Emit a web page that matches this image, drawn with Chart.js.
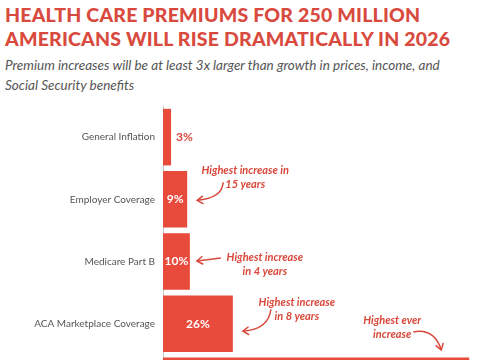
<!DOCTYPE html>
<html>
<head>
<meta charset="utf-8">
<script src="https://cdn.jsdelivr.net/npm/chart.js@4"></script>
<style>
  html, body { margin: 0; padding: 0; background: #fff; width: 485px; height: 360px; overflow: hidden; }
  .title {
    position: absolute; left: 5px; top: 3px;
    font-family: "Lato", sans-serif; font-weight: 900; font-size: 19.5px;
    line-height: 24px; color: #d94a3e; letter-spacing: 0.2px;
  }
  .sub {
    position: absolute; left: 5px; top: 55px;
    font-family: "Lato", sans-serif; font-style: italic; font-size: 13.5px;
    line-height: 20px; color: #555;
  }
  #wrap { position: absolute; left: 0; top: 0; width: 485px; height: 430px; }
</style>
</head>
<body>
<div class="title">HEALTH CARE PREMIUMS FOR 250 MILLION<br>AMERICANS WILL RISE DRAMATICALLY IN 2026</div>
<div class="sub">Premium increases will be at least 3x larger than growth in prices, income, and<br>Social Security benefits</div>
<div id="wrap"><canvas id="chart"></canvas></div>
<script>
// 데이터
const categories = [
  "General Inflation",
  "Employer Coverage",
  "Medicare Part B",
  "ACA Marketplace Coverage",
  "ACA Enrollee Premium Payments"
];
const increases = [3, 9, 10, 26, 114];
const valueLabels = ["3%", "9%", "10%", "26%", "114%"];

// 주석 (막대 끝 기준 위치)
const notes = [
  { bar: 1, lines: ["Highest increase in", "15 years"] },
  { bar: 2, lines: ["Highest increase", "in 4 years"] },
  { bar: 3, lines: ["Highest increase", "in 8 years"] },
  { bar: 4, lines: ["Highest ever", "increase"] }
];

const RED = "#e84a3c";
const NOTE_RED = "#d9483b";

const notePos = [
  { tx: 58, ty: -29, arrow: [36, -17, 35, -1, 10, 1] },
  { tx: 75, ty: -4.5, arrow: [31, -3.5, 19, -2, 7, -0.5] },
  { tx: 64, ty: -21.5, arrow: [38, -14.5, 36, 5.5, 10, 7.5] },
  { tx: -77, ty: -65, arrow: [-56, -54, -35, -58, -28, -36] }
];

function drawHead(ctx, x, y, angle) {
  ctx.save();
  ctx.translate(x, y);
  ctx.rotate(angle);
  ctx.beginPath();
  ctx.moveTo(6, -4);
  ctx.lineTo(0, 0);
  ctx.lineTo(6, 4);
  ctx.stroke();
  ctx.restore();
}

const labelPlugin = {
  id: "labels",
  afterDatasetsDraw(chart) {
    const ctx = chart.ctx;
    const xs = chart.scales.x;
    const ys = chart.scales.y;
    ctx.save();

    // 값 라벨
    ctx.font = "bold 12px Lato";
    ctx.textBaseline = "middle";
    increases.forEach((v, i) => {
      const end = xs.getPixelForValue(v);
      const y = ys.getPixelForValue(i);
      const start = xs.getPixelForValue(0);
      if (end - start < 20) {
        ctx.fillStyle = NOTE_RED;
        ctx.textAlign = "left";
        ctx.fillText(valueLabels[i], end + 5, y);
      } else {
        ctx.fillStyle = "#ffffff";
        ctx.textAlign = "center";
        ctx.fillText(valueLabels[i], (start + end) / 2, y);
      }
    });

    // 주석 텍스트 + 화살표
    ctx.font = "italic bold 11px Lato";
    ctx.fillStyle = NOTE_RED;
    ctx.strokeStyle = NOTE_RED;
    ctx.lineWidth = 1.5;
    ctx.textAlign = "center";
    notes.forEach((n, k) => {
      const p = notePos[k];
      const bx = xs.getPixelForValue(increases[n.bar]);
      const by = ys.getPixelForValue(n.bar);
      n.lines.forEach((line, j) => {
        ctx.fillText(line, bx + p.tx, by + p.ty + j * 14);
      });
      const a = p.arrow;
      ctx.beginPath();
      ctx.moveTo(bx + a[0], by + a[1]);
      ctx.quadraticCurveTo(bx + a[2], by + a[3], bx + a[4], by + a[5]);
      ctx.stroke();
      const ang = Math.atan2(a[5] - a[3], a[4] - a[2]) + Math.PI;
      drawHead(ctx, bx + a[4], by + a[5], ang);
    });
    ctx.restore();
  }
};

new Chart(document.getElementById("chart"), {
  type: "bar",
  data: {
    labels: categories,
    datasets: [{
      data: increases,
      backgroundColor: RED,
      borderWidth: 0,
      barPercentage: 0.91,
      categoryPercentage: 1
    }]
  },
  options: {
    indexAxis: "y",
    responsive: true,
    maintainAspectRatio: false,
    animation: false,
    layout: {
      padding: { top: 106, bottom: 13, left: 0, right: 5 }
    },
    plugins: {
      legend: { display: false },
      tooltip: { enabled: false }
    },
    scales: {
      x: {
        display: false,
        min: 0,
        max: 118
      },
      y: {
        afterFit(scale) { scale.width = 163; },
        grid: { display: false },
        border: { color: "#c4c4c4", width: 1 },
        ticks: {
          color: "#555",
          padding: 0,
          font: { family: "Lato", size: 10 }
        }
      }
    }
  },
  plugins: [labelPlugin]
});
</script>
</body>
</html>
